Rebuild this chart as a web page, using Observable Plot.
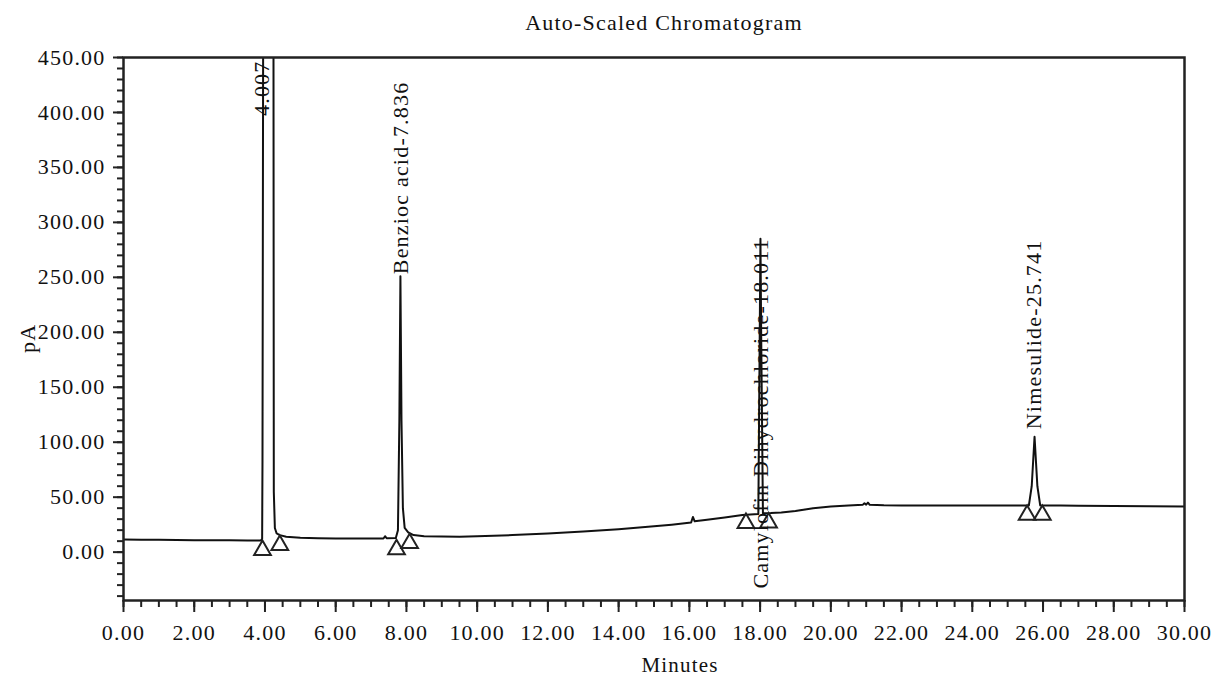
<!DOCTYPE html>
<html><head><meta charset="utf-8">
<script src="https://cdn.jsdelivr.net/npm/d3@7"></script>
<script src="https://cdn.jsdelivr.net/npm/@observablehq/plot@0.6"></script>
<style>body{margin:0;background:#fff}</style>
</head><body><div id="chart"></div>
<script>
// Chromatogram trace (minutes, pA)
const times = [0.0,0.5,1.0,1.5,2.0,2.5,3.0,3.5,3.88,3.92,3.93,3.95,4.24,4.25,4.28,4.33,4.42,4.6,5.0,5.5,6.0,6.5,7.0,7.35,7.4,7.44,7.7,7.76,7.8,7.83,7.86,7.9,7.95,8.05,8.2,8.5,9.0,9.5,10.0,11.0,12.0,13.0,14.0,15.0,15.5,16.05,16.1,16.15,16.5,17.0,17.5,17.95,17.99,18.01,18.03,18.08,18.3,18.6,19.0,19.5,20.0,20.5,20.9,20.95,21.0,21.05,21.1,21.5,22.0,23.0,24.0,25.0,25.6,25.68,25.76,25.84,25.92,26.5,27.0,28.0,29.0,30.0];
const signal = [11.5,11.3,11.2,11.0,10.9,10.8,10.7,10.6,10.5,12,83,500,500,55,22,17,15.5,14,13,12.6,12.4,12.3,12.3,12.4,14.5,12.6,12.8,20,120,251,120,40,22,18,15.5,14.5,14.2,14.0,14.5,15.5,17.0,18.7,20.8,23.5,25.0,27.0,32,28,29.5,31.5,33.8,34.8,200,285,200,35.3,35.5,36,37.5,40,41.5,42.5,43,44.5,43.2,45,43,42.6,42.5,42.5,42.5,42.5,42.5,60,105,60,42.5,42.5,42.3,42.0,41.8,41.5];

// Peak names, retention times, label anchor values (pA)
const peakNames = ["4.007","Benzioc acid-7.836","Camylofin Dihydrochloride-18.011","Nimesulide-25.741"];
const peakTimes = [4.007, 7.836, 18.011, 25.741];
const labelAt = [450, 251, -35, 110];
const labelAnchor = ["end","start","start","start"];

// Integration baseline markers
const markTimes = [3.93, 4.42, 7.72, 8.09, 17.6, 18.24, 25.55, 25.98];
const markValues = [10.6, 15, 11.3, 16.8, 35, 35.5, 42.5, 42.5];

// Axis ticks
const xMajor = d3.range(0, 30.001, 2);
const xMinor = d3.range(0, 30.001, 0.5);
const yMajor = d3.range(0, 450.001, 50);
const yMinor = d3.range(-40, 450.001, 10);

const trace = times.map((t, i) => ({t, v: signal[i]}));
const labels = peakNames.map((name, i) => ({name, t: peakTimes[i], at: labelAt[i], anchor: labelAnchor[i]}));
const markers = markTimes.map((t, i) => ({t, v: markValues[i]}));

const ink = "#111";

const chart = Plot.plot({
  width: 1215, height: 678,
  marginLeft: 123, marginRight: 31, marginTop: 57, marginBottom: 78,
  x: {domain: [0, 30]},
  y: {domain: [-44, 450]},
  style: {fontFamily: "'Liberation Serif', 'DejaVu Serif', serif", fontSize: "22px", color: ink, background: "#fff", letterSpacing: "1.2px", overflow: "visible"},
  marks: [
    Plot.axisX(xMinor, {tickSize: 7, tickFormat: () => "", strokeWidth: 2, stroke: "#222", label: null}),
    Plot.axisX(xMajor, {tickSize: 12, tickPadding: 12, tickFormat: d3.format(".2f"), strokeWidth: 2, stroke: "#222", label: null, fill: ink}),
    Plot.axisY(yMinor, {tickSize: 6, tickFormat: () => "", strokeWidth: 2, stroke: "#222", label: null}),
    Plot.axisY(yMajor, {tickSize: 10, tickPadding: 8, tickFormat: d3.format(".2f"), strokeWidth: 2, stroke: "#222", label: null, fill: ink}),
    Plot.line(trace, {x: "t", y: "v", stroke: ink, strokeWidth: 2, clip: true}),
    Plot.dot(markers, {x: "t", y: "v", symbol: "triangle", r: 6.2, stroke: "#222", strokeWidth: 2, fill: "none", dy: 9.6}),
    Plot.text(labels.filter(d => d.anchor === "start"), {x: "t", y: "at", text: "name", rotate: -90, textAnchor: "start", fontSize: 22, dy: -2, fill: ink}),
    Plot.text(labels.filter(d => d.anchor === "end"), {x: "t", y: "at", text: "name", rotate: -90, textAnchor: "end", fontSize: 22, dy: 3, dx: -3, fill: ink}),
    Plot.frame({stroke: "#222", strokeWidth: 2.5}),
    Plot.text(["Auto-Scaled Chromatogram"], {frameAnchor: "top", lineAnchor: "middle", dy: -35, dx: 10, fontSize: 22, fill: ink}),
    Plot.text(["pA"], {frameAnchor: "left", lineAnchor: "middle", rotate: -90, dx: -96, dy: 24, fontSize: 22, fill: ink}),
    Plot.text(["Minutes"], {frameAnchor: "bottom", lineAnchor: "middle", dx: 26, dy: 65, fontSize: 21, fill: ink})
  ]
});
document.getElementById("chart").append(chart);
</script></body></html>
